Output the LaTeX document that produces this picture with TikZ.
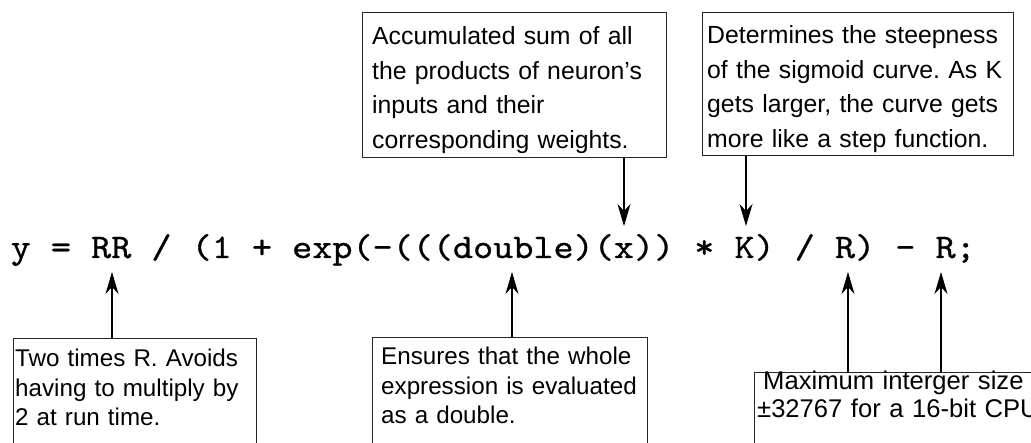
\documentclass[tikz,border=0pt]{standalone}
\usepackage{fontspec}
\usepackage{graphicx}
\setmainfont{Liberation Sans}
\newfontfamily\codefont{lmmono10-regular.otf}[RawFeature={embolden=0.7}]
\usetikzlibrary{arrows.meta,calc}

\begin{document}
\frenchspacing
\begin{tikzpicture}[x=1pt,y=-1pt,
  note/.style={draw=black!85, line width=1pt, inner sep=0pt, anchor=north west},
  notetext/.style={anchor=base west, inner sep=0pt, align=left, text width=330pt,
    font=\fontsize{24.8}{34.5}\selectfont},
  lowtext/.style={anchor=base west, inner sep=0pt, align=left, text width=330pt,
    font=\fontsize{24.2}{29.5}\selectfont},
  pointer/.style={line width=1.1pt, -{Stealth[length=22pt,width=13pt,inset=7pt]}},
  code/.style={anchor=base west, inner sep=0pt, font=\codefont\fontsize{34.5}{40}\selectfont}]

% page area
\useasboundingbox (0,0) rectangle (1031,443);
\clip (0,0) rectangle (1031,443);
\fill[white] (0,0) rectangle (1031,443);

% the statement being explained
\node[code] (expr) at (10.5,258) {\scalebox{1.11}[1]{y = RR / (1 + exp(-(((double)(x)) * K) / R) - R;}};

% points of the statement the notes refer to
\coordinate (px)   at (624,226);
\coordinate (pK)   at (746,226);
\coordinate (pRR)  at (112,272);
\coordinate (pdbl) at (512,272);
\coordinate (pR1)  at (848,272);
\coordinate (pR2)  at (941,272);

% notes above
\node[note, minimum width=304pt, minimum height=145pt] (sum) at (362,12) {};
\node[notetext] (sumtext) at (372,45) {Accumulated sum of all\\the products of neuron's\\inputs and their\\corresponding weights.};

\node[note, minimum width=311pt, minimum height=143pt] (steep) at (702,12) {};
\node[notetext] (steeptext) at (707,44) {Determines the steepness\\of the sigmoid curve. As K\\gets larger, the curve gets\\more like a step function.};

% notes below (they run past the page edge)
\node[note, minimum width=243pt, minimum height=160pt] (twor) at (13,338) {};
\node[lowtext] (twortext) at (15,367) {Two times R. Avoids\\having to multiply by\\2 at run time.};

\node[note, minimum width=275pt, minimum height=160pt] (dbl) at (372,337) {};
\node[lowtext] (dbltext) at (381,365) {Ensures that the whole\\expression is evaluated\\as a double.};

\node[note, minimum width=320pt, minimum height=120pt] (maxint) at (754,372) {};
\node[lowtext, font=\fontsize{25.6}{27.5}\selectfont] (maxtext) at (757,390) {\hspace*{6pt}Maximum interger size\\±32767 for a 16-bit CPU};

% pointers
\draw[pointer] (sum.south -| px) -- (px);
\draw[pointer] (steep.south -| pK) -- (pK);
\draw[pointer] (twor.north -| pRR) -- (pRR);
\draw[pointer] (dbl.north -| pdbl) -- (pdbl);
\draw[pointer] (maxint.north -| pR1) -- (pR1);
\draw[pointer] (maxint.north -| pR2) -- (pR2);
\end{tikzpicture}
\end{document}
